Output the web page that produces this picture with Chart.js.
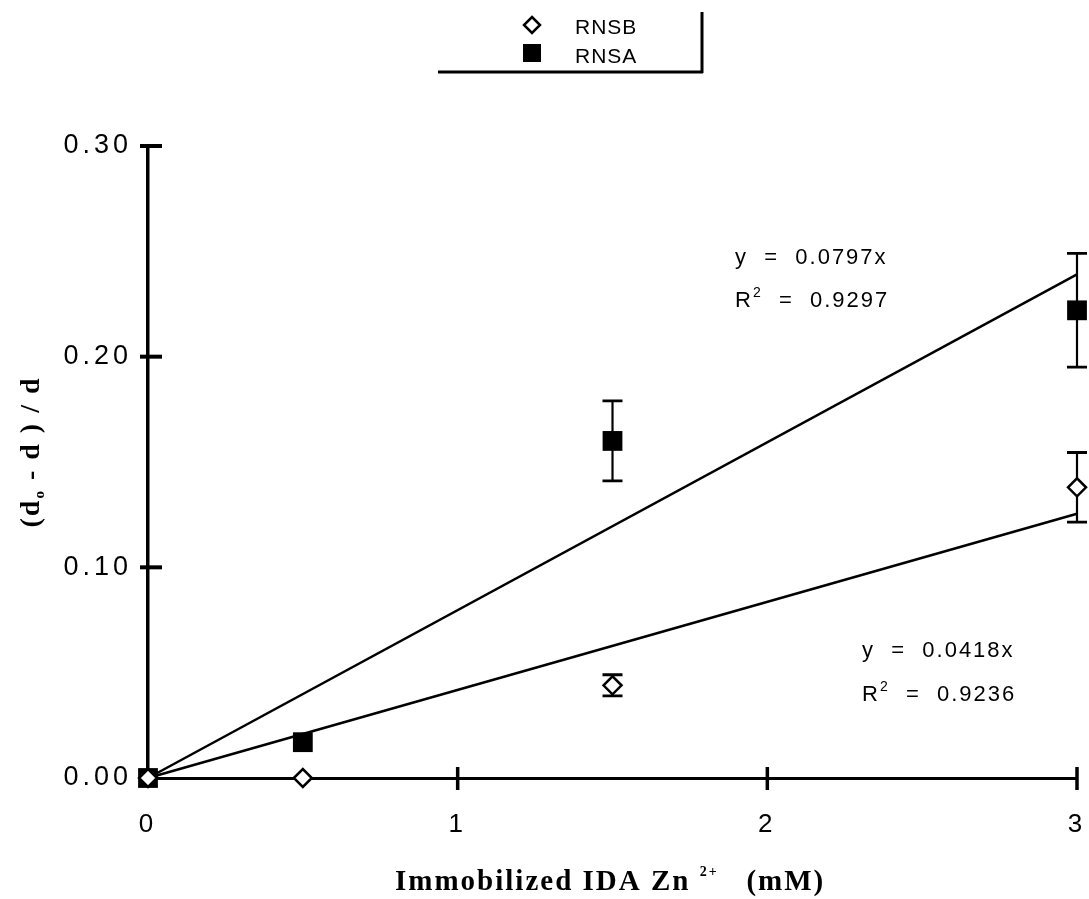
<!DOCTYPE html>
<html><head><meta charset="utf-8">
<script src="https://cdn.jsdelivr.net/npm/chart.js@4.4.1/dist/chart.umd.min.js"></script>
<style>html,body{margin:0;padding:0;background:#fff;overflow:hidden}canvas{display:block}</style>
</head><body>
<canvas id="c" width="1089" height="899"></canvas>
<script>
// ---- data ----
const seriesNames = ['RNSB', 'RNSA'];
const xValues = [0, 0.5, 1.5, 3];
const rnsbY = [0, 0, 0.044, 0.138];
const rnsbErr = [0, 0, 0.005, 0.0165];
const rnsaY = [0, 0.017, 0.160, 0.222];
const rnsaErr = [0, 0, 0.019, 0.027];
const fitX = [0, 3];
const fitA = [0, 0.2391];   // y = 0.0797x
const fitB = [0, 0.1254];   // y = 0.0418x
const fitEqA = ['y  =  0.0797x', '  =  0.9297'];
const fitEqB = ['y  =  0.0418x', '  =  0.9236'];
const yTickValues = [0, 0.1, 0.2, 0.3];
const xTickValues = [0, 1, 2, 3];
const xTitle = ['Immobilized IDA Zn ', '2+', '   (mM)'];
const yTitle = ['(d', 'o', ' - d ) / d'];

const pts = (xs, ys) => xs.map((x, i) => ({x: x, y: ys[i]}));

const SANS = '"Liberation Sans", Arial, sans-serif';
const SERIF = '"Liberation Serif", "Times New Roman", serif';

const decorPlugin = {
  id: 'decor',
  beforeDraw(chart) {
    chart.ctx.letterSpacing = '4px';
  },
  beforeDatasetsDraw(chart) {
    const ctx = chart.ctx, xs = chart.scales.x, ys = chart.scales.y;
    ctx.save();
    ctx.strokeStyle = '#000';
    // crossing tick marks
    ctx.lineWidth = 4;
    yTickValues.forEach(v => {
      if (v === 0) return;
      const py = ys.getPixelForValue(v);
      ctx.beginPath(); ctx.moveTo(xs.left - 8, py); ctx.lineTo(xs.left + 14, py); ctx.stroke();
    });
    ctx.lineWidth = 3.5;
    xTickValues.forEach(v => {
      if (v === 0) return;
      const px = xs.getPixelForValue(v);
      ctx.beginPath(); ctx.moveTo(px, ys.bottom - 11); ctx.lineTo(px, ys.bottom + 12); ctx.stroke();
    });
    // error bars
    const bars = (yv, ev) => {
      xValues.forEach((x, i) => {
        if (!ev[i]) return;
        const px = xs.getPixelForValue(x);
        const top = ys.getPixelForValue(yv[i] + ev[i]);
        const bot = ys.getPixelForValue(yv[i] - ev[i]);
        ctx.lineWidth = 2.2;
        ctx.beginPath(); ctx.moveTo(px, top); ctx.lineTo(px, bot); ctx.stroke();
        ctx.lineWidth = 2.8;
        ctx.beginPath();
        ctx.moveTo(px - 10, top); ctx.lineTo(px + 10, top);
        ctx.moveTo(px - 10, bot); ctx.lineTo(px + 10, bot);
        ctx.stroke();
      });
    };
    bars(rnsaY, rnsaErr);
    bars(rnsbY, rnsbErr);
    ctx.restore();
  },
  afterDraw(chart) {
    const ctx = chart.ctx;
    ctx.save();
    ctx.fillStyle = '#000';
    ctx.strokeStyle = '#000';
    ctx.textBaseline = 'alphabetic';
    ctx.textAlign = 'left';

    // legend
    ctx.letterSpacing = '1px';
    ctx.font = '21px ' + SANS;
    ctx.lineWidth = 2.5;
    ctx.fillStyle = '#fff';
    ctx.beginPath();
    ctx.moveTo(532, 17); ctx.lineTo(540, 25); ctx.lineTo(532, 33); ctx.lineTo(524, 25); ctx.closePath();
    ctx.fill(); ctx.stroke();
    ctx.fillStyle = '#000';
    ctx.fillText(seriesNames[0], 575, 34);
    ctx.fillRect(523, 44, 18, 18);
    ctx.fillText(seriesNames[1], 575, 63);
    ctx.lineWidth = 3;
    ctx.beginPath();
    ctx.moveTo(438, 72); ctx.lineTo(703, 72);
    ctx.moveTo(702, 12); ctx.lineTo(702, 73);
    ctx.stroke();

    // fit equations
    const eq = (lines, x, y1, y2) => {
      ctx.letterSpacing = '2px';
      ctx.font = '22px ' + SANS;
      ctx.fillText(lines[0], x, y1);
      ctx.fillText('R', x, y2);
      const rw = ctx.measureText('R').width;
      ctx.font = '14px ' + SANS;
      ctx.fillText('2', x + rw, y2 - 10);
      const sw = ctx.measureText('2').width;
      ctx.font = '22px ' + SANS;
      ctx.fillText(lines[1], x + rw + sw, y2);
    };
    eq(fitEqA, 735, 264, 307);
    eq(fitEqB, 862, 657, 701);

    // x title
    ctx.letterSpacing = '2px';
    let x = 395;
    const by = 890;
    ctx.font = 'bold 29px ' + SERIF;
    ctx.fillText(xTitle[0], x, by);
    x += ctx.measureText(xTitle[0]).width;
    ctx.font = 'bold 14px ' + SERIF;
    ctx.fillText(xTitle[1], x, by - 14);
    x += ctx.measureText(xTitle[1]).width;
    ctx.font = 'bold 29px ' + SERIF;
    ctx.fillText(xTitle[2], x, by);

    // y title (rotated)
    ctx.save();
    ctx.translate(39, 0);
    ctx.rotate(-Math.PI / 2);
    const big = 'bold 28px ' + SERIF, small = 'bold 15px ' + SERIF;
    ctx.font = big; const w0 = ctx.measureText(yTitle[0]).width;
    ctx.font = small; const w1 = ctx.measureText(yTitle[1]).width;
    ctx.font = big; const w2 = ctx.measureText(yTitle[2]).width;
    const total = w0 + w1 + w2;
    let t = -(452 + total / 2);
    ctx.font = big; ctx.fillText(yTitle[0], t, 0); t += w0;
    ctx.font = small; ctx.fillText(yTitle[1], t, 5); t += w1;
    ctx.font = big; ctx.fillText(yTitle[2], t, 0);
    ctx.restore();

    ctx.restore();
  }
};

new Chart(document.getElementById('c'), {
  type: 'scatter',
  data: {
    datasets: [
      {
        label: seriesNames[0],
        data: pts(xValues, rnsbY),
        pointStyle: 'rectRot',
        pointRadius: 9,
        pointHoverRadius: 9,
        pointBackgroundColor: '#fff',
        pointBorderColor: '#000',
        pointBorderWidth: 2.5,
        showLine: false,
        clip: false
      },
      {
        label: seriesNames[1],
        data: pts(xValues, rnsaY),
        pointStyle: 'rect',
        pointRadius: 14,
        pointHoverRadius: 14,
        pointBackgroundColor: '#000',
        pointBorderColor: '#000',
        pointBorderWidth: 0,
        showLine: false,
        clip: false
      },
      {
        label: 'fitA',
        type: 'line',
        data: pts(fitX, fitA),
        borderColor: '#000',
        borderWidth: 2.5,
        pointRadius: 0,
        fill: false,
        clip: false
      },
      {
        label: 'fitB',
        type: 'line',
        data: pts(fitX, fitB),
        borderColor: '#000',
        borderWidth: 2.5,
        pointRadius: 0,
        fill: false,
        clip: false
      }
    ]
  },
  options: {
    responsive: false,
    animation: false,
    devicePixelRatio: 1,
    events: [],
    layout: {autoPadding: false, padding: {top: 146, right: 12, left: 0, bottom: 0}},
    plugins: {legend: {display: false}, tooltip: {enabled: false}, title: {display: false}},
    scales: {
      x: {
        type: 'linear',
        min: 0, max: 3,
        afterBuildTicks: s => { s.ticks = xTickValues.map(v => ({value: v})); },
        afterFit: s => { s.height = 899 - 778; s.paddingLeft = 0; s.paddingRight = 0; },
        grid: {display: false, drawTicks: false},
        border: {display: true, color: '#000', width: 3},
        ticks: {color: '#000', padding: 31, font: {family: SANS, size: 26}, callback: v => String(v)}
      },
      y: {
        type: 'linear',
        min: 0, max: 0.3,
        afterBuildTicks: s => { s.ticks = yTickValues.map(v => ({value: v})); },
        afterFit: s => { s.width = 148; s.paddingTop = 0; s.paddingBottom = 0; },
        grid: {display: false, drawTicks: false},
        border: {display: true, color: '#000', width: 3.5},
        ticks: {color: '#000', padding: 16, font: {family: SANS, size: 27}, callback: v => Number(v).toFixed(2)}
      }
    }
  },
  plugins: [decorPlugin]
});
</script>
</body></html>
